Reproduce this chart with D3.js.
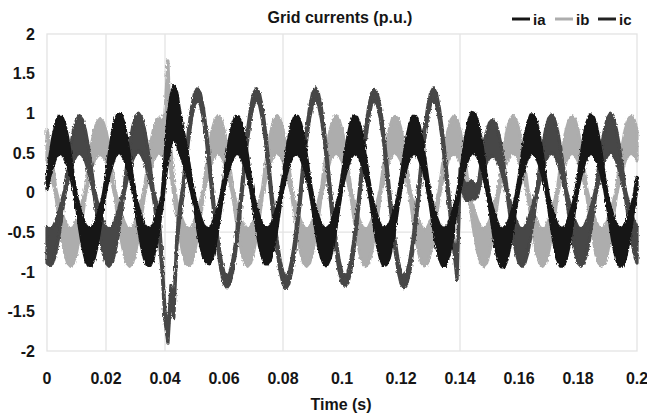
<!DOCTYPE html>
<html>
<head>
<meta charset="utf-8">
<script src="https://cdn.jsdelivr.net/npm/d3@7"></script>
<style>
  body { margin: 0; background: #fff; }
  svg text { font-family: "Liberation Sans", Arial, sans-serif; font-weight: bold; fill: #151515; }
</style>
</head>
<body>
<div id="chart"></div>
<script>
// Samples every 1 ms from 0 to 0.2 s. Each phase is kept as the upper and
// lower edge of its ripple band.
const SAMPLE_STEP = 0.001;

const iaHigh = [
  .19, .46, .70, .87, .96, .96, .87, .70, .46, .19, -.04, -.19, -.31, -.41, -.45, -.45, -.41, -.31, -.19, -.04,
  .19, .47, .72, .90, .99, .99, .89, .70, .46, .19, -.04, -.19, -.31, -.41, -.45, -.45, -.41, -.31, -.19, -.04,
  .45, .95, 1.22, 1.35, 1.26, 1.02, .82, .62, .40, .15, -.04, -.19, -.31, -.41, -.45, -.45, -.41, -.31, -.19, -.04,
  .19, .46, .70, .87, .96, .95, .86, .70, .46, .19, -.04, -.19, -.31, -.41, -.44, -.45, -.41, -.31, -.19, -.04,
  .19, .46, .70, .87, .96, .96, .87, .70, .46, .19, -.04, -.19, -.31, -.41, -.45, -.45, -.41, -.31, -.19, -.04,
  .20, .47, .71, .88, .96, .95, .86, .69, .45, .19, -.04, -.19, -.31, -.41, -.45, -.44, -.41, -.31, -.19, -.04,
  .19, .46, .70, .87, .96, .96, .87, .70, .46, .19, -.04, -.19, -.31, -.41, -.45, -.45, -.41, -.31, -.19, -.04,
  .19, .47, .72, .91, 1.01, 1.0, .89, .71, .46, .19, -.04, -.19, -.31, -.42, -.46, -.46, -.41, -.31, -.19, -.04,
  .19, .46, .71, .88, .98, .97, .88, .70, .46, .19, -.04, -.19, -.31, -.41, -.45, -.45, -.41, -.31, -.19, -.04,
  .19, .46, .71, .88, .98, .97, .88, .70, .46, .19, -.04, -.19, -.31, -.41, -.45, -.45, -.41, -.31, -.19, -.04,
  .19
];
const iaLow = [
  .04, .21, .34, .44, .49, .49, .44, .34, .21, .04, -.18, -.44, -.67, -.83, -.92, -.92, -.83, -.67, -.44, -.18,
  .04, .21, .34, .45, .50, .50, .44, .34, .21, .04, -.18, -.44, -.67, -.83, -.92, -.92, -.83, -.67, -.44, -.18,
  .15, .42, .62, .72, .62, .50, .40, .28, .16, .00, -.18, -.44, -.66, -.81, -.89, -.90, -.83, -.67, -.44, -.18,
  .04, .21, .34, .44, .49, .49, .44, .34, .21, .04, -.18, -.44, -.67, -.82, -.90, -.90, -.82, -.67, -.44, -.18,
  .04, .21, .34, .44, .49, .49, .44, .34, .21, .04, -.18, -.44, -.67, -.82, -.91, -.91, -.83, -.67, -.44, -.18,
  .04, .21, .34, .44, .49, .49, .44, .34, .21, .04, -.18, -.44, -.67, -.83, -.92, -.91, -.83, -.67, -.44, -.18,
  .04, .21, .34, .44, .49, .49, .44, .34, .21, .04, -.18, -.44, -.67, -.83, -.92, -.92, -.83, -.67, -.44, -.18,
  .04, .21, .35, .45, .50, .50, .45, .35, .21, .04, -.18, -.44, -.68, -.85, -.94, -.94, -.84, -.67, -.44, -.18,
  .04, .21, .34, .44, .49, .49, .44, .34, .21, .04, -.18, -.44, -.67, -.84, -.93, -.93, -.84, -.67, -.44, -.18,
  .04, .21, .34, .44, .49, .49, .44, .34, .21, .04, -.18, -.44, -.67, -.84, -.93, -.93, -.84, -.67, -.44, -.18,
  .04
];

const ibHigh = [
  .79, .59, .33, .04, -.11, -.25, -.36, -.44, -.46, -.44, -.36, -.25, -.11, .04, .33, .59, .78, .89, .93, .89,
  .78, .59, .33, .04, -.11, -.25, -.36, -.44, -.46, -.44, -.36, -.25, -.11, .04, .33, .59, .78, .90, .94, .90,
  1.0, 1.66, .55, .12, -.11, -.25, -.36, -.44, -.46, -.44, -.36, -.25, -.11, .04, .33, .59, .79, .92, .97, .92,
  .79, .59, .33, .04, -.11, -.25, -.36, -.44, -.46, -.44, -.36, -.25, -.11, .04, .33, .59, .79, .92, .97, .92,
  .79, .59, .33, .04, -.11, -.25, -.36, -.44, -.46, -.44, -.36, -.25, -.11, .04, .33, .59, .79, .92, .97, .92,
  .79, .59, .33, .04, -.11, -.25, -.36, -.44, -.46, -.44, -.36, -.25, -.11, .04, .33, .59, .79, .92, .96, .93,
  .80, .60, .33, .04, -.11, -.25, -.36, -.44, -.46, -.44, -.36, -.25, -.11, .04, .33, .59, .79, .92, .97, .92,
  .79, .59, .33, .04, -.11, -.25, -.36, -.44, -.46, -.44, -.36, -.25, -.11, .04, .33, .59, .79, .92, .97, .92,
  .79, .59, .33, .04, -.11, -.25, -.36, -.44, -.46, -.44, -.36, -.25, -.11, .04, .33, .59, .79, .92, .97, .92,
  .79, .59, .33, .04, -.11, -.25, -.36, -.44, -.46, -.44, -.36, -.25, -.11, .04, .33, .59, .79, .92, .97, .92,
  .79
];
const ibLow = [
  .40, .28, .13, -.04, -.32, -.56, -.76, -.89, -.93, -.89, -.76, -.56, -.32, -.04, .13, .28, .40, .46, .48, .46,
  .40, .28, .13, -.04, -.32, -.56, -.76, -.89, -.93, -.89, -.76, -.56, -.32, -.04, .13, .28, .40, .47, .49, .47,
  .55, 1.45, .25, -.04, -.32, -.56, -.76, -.89, -.92, -.89, -.76, -.56, -.32, -.04, .13, .28, .40, .47, .50, .47,
  .40, .28, .13, -.04, -.32, -.56, -.76, -.89, -.93, -.89, -.76, -.56, -.32, -.04, .13, .28, .40, .47, .50, .47,
  .40, .28, .13, -.04, -.32, -.56, -.76, -.89, -.93, -.89, -.76, -.56, -.32, -.04, .13, .28, .40, .47, .50, .47,
  .40, .28, .13, -.04, -.32, -.56, -.76, -.89, -.93, -.89, -.76, -.56, -.32, -.04, .13, .28, .40, .47, .50, .47,
  .40, .28, .13, -.04, -.32, -.56, -.76, -.89, -.93, -.89, -.76, -.56, -.32, -.04, .13, .28, .40, .47, .50, .47,
  .40, .28, .13, -.04, -.32, -.56, -.76, -.89, -.93, -.89, -.76, -.56, -.32, -.04, .13, .28, .40, .47, .50, .47,
  .40, .28, .13, -.04, -.32, -.56, -.76, -.89, -.93, -.89, -.76, -.56, -.32, -.04, .13, .28, .40, .47, .50, .47,
  .40, .28, .13, -.04, -.32, -.56, -.76, -.89, -.93, -.89, -.76, -.56, -.32, -.04, .13, .28, .40, .47, .50, .47,
  .40
];

const icHigh = [
  -.44, -.46, -.44, -.36, -.25, -.11, .04, .33, .59, .79, .92, .97, .92, .79, .59, .33, .04, -.11, -.25, -.36,
  -.44, -.46, -.44, -.36, -.25, -.11, .04, .34, .61, .82, .96, 1.0, .95, .81, .60, .33, .04, -.11, -.30, -.85,
  -1.48, -1.80, -1.17, -1.45, -.55, -.18, .07, .45, .80, 1.07, 1.25, 1.31, 1.25, 1.07, .80, .45, .07, -.28, -.60, -.85,
  -1.01, -1.07, -1.01, -.85, -.60, -.28, .07, .45, .80, 1.07, 1.25, 1.31, 1.25, 1.07, .80, .45, .07, -.28, -.60, -.85,
  -1.01, -1.08, -1.01, -.85, -.60, -.28, .07, .45, .80, 1.07, 1.25, 1.32, 1.25, 1.07, .80, .45, .07, -.28, -.60, -.85,
  -1.01, -1.06, -1.01, -.85, -.60, -.28, .07, .45, .80, 1.07, 1.25, 1.30, 1.25, 1.07, .80, .45, .07, -.28, -.60, -.85,
  -1.01, -1.07, -1.01, -.85, -.60, -.28, .07, .45, .80, 1.07, 1.25, 1.32, 1.25, 1.07, .80, .45, .07, -.28, -.62, -.95,
  .30, .18, .10, .12, .15, .10, .06, .33, .59, .76, .88, .92, .88, .76, .59, .33, .04, -.11, -.25, -.36,
  -.44, -.46, -.44, -.36, -.25, -.11, .04, .33, .59, .79, .93, .98, .93, .79, .59, .33, .04, -.11, -.25, -.36,
  -.44, -.46, -.44, -.36, -.25, -.11, .04, .33, .59, .80, .94, 1.0, .94, .80, .59, .33, .04, -.11, -.25, -.36,
  -.44
];
const icLow = [
  -.89, -.92, -.89, -.76, -.56, -.32, -.04, .13, .28, .40, .47, .50, .47, .40, .28, .13, -.04, -.32, -.56, -.76,
  -.89, -.93, -.89, -.76, -.56, -.32, -.04, .13, .29, .41, .49, .52, .48, .40, .28, .13, -.04, -.32, -.55, -1.00,
  -1.62, -1.90, -1.28, -1.58, -.68, -.32, -.07, .31, .66, .93, 1.11, 1.17, 1.11, .93, .66, .31, -.07, -.42, -.74, -.99,
  -1.15, -1.20, -1.15, -.99, -.74, -.42, -.07, .31, .66, .93, 1.11, 1.17, 1.11, .93, .66, .31, -.07, -.42, -.74, -.99,
  -1.15, -1.21, -1.15, -.99, -.74, -.42, -.07, .31, .66, .93, 1.11, 1.18, 1.11, .93, .66, .31, -.07, -.42, -.74, -.99,
  -1.14, -1.18, -1.14, -.99, -.74, -.42, -.07, .31, .66, .93, 1.11, 1.16, 1.11, .93, .66, .31, -.07, -.42, -.74, -.99,
  -1.15, -1.20, -1.15, -.99, -.74, -.42, -.07, .31, .66, .93, 1.11, 1.18, 1.11, .93, .66, .31, -.07, -.42, -.76, -1.10,
  .12, .00, -.10, -.10, -.08, -.08, -.04, .13, .28, .38, .44, .46, .44, .38, .28, .13, -.04, -.32, -.56, -.76,
  -.89, -.93, -.89, -.76, -.56, -.32, -.04, .13, .28, .40, .47, .50, .47, .40, .28, .13, -.04, -.32, -.56, -.76,
  -.89, -.93, -.89, -.76, -.56, -.32, -.04, .13, .28, .40, .47, .50, .47, .40, .28, .13, -.04, -.32, -.56, -.76,
  -.89
];

const xTicks = [0, 0.02, 0.04, 0.06, 0.08, 0.1, 0.12, 0.14, 0.16, 0.18, 0.2];
const yTicks = [2, 1.5, 1, 0.5, 0, -0.5, -1, -1.5, -2];
const gridTimes = [0.02, 0.04, 0.08, 0.14];
const gridValues = [-0.5];

const legendNames = ["ia", "ib", "ic"];
const colors = {ia: "#161616", ib: "#adadad", ic: "#464646"};

// drawing order: light phase at the back, black phase on top
const series = [
  {name: "ib", high: ibHigh, low: ibLow},
  {name: "ic", high: icHigh, low: icLow},
  {name: "ia", high: iaHigh, low: iaLow},
];

const width = 647;
const height = 414;
const margin = {top: 34, right: 10, bottom: 63, left: 47};

const svg = d3.select("#chart").append("svg").attr("width", width).attr("height", height);

// slight roughening so the bands get the switching-ripple fringe
const rough = svg.append("defs").append("filter")
  .attr("id", "rough")
  .attr("x", "-5%").attr("y", "-5%").attr("width", "110%").attr("height", "110%");
rough.append("feTurbulence")
  .attr("type", "fractalNoise")
  .attr("baseFrequency", "0.9 0.35")
  .attr("numOctaves", 1)
  .attr("seed", 3)
  .attr("result", "noise");
rough.append("feDisplacementMap")
  .attr("in", "SourceGraphic")
  .attr("in2", "noise")
  .attr("scale", 3.5)
  .attr("xChannelSelector", "R")
  .attr("yChannelSelector", "G");

const x = d3.scaleLinear([0, 0.2], [margin.left, width - margin.right]);
const y = d3.scaleLinear([-2, 2], [height - margin.bottom, margin.top]);

// frame + the few grid lines that show
const grid = svg.append("g").attr("stroke", "#e3e3e3").attr("stroke-width", 1.3).attr("fill", "none");
grid.append("rect")
  .attr("x", x(0)).attr("y", y(2))
  .attr("width", x(0.2) - x(0)).attr("height", y(-2) - y(2));
grid.selectAll("line.v").data(gridTimes).join("line")
  .attr("class", "v")
  .attr("x1", (d) => x(d)).attr("x2", (d) => x(d))
  .attr("y1", y(2)).attr("y2", y(-2));
grid.selectAll("line.h").data(gridValues).join("line")
  .attr("class", "h")
  .attr("x1", x(0)).attr("x2", x(0.2))
  .attr("y1", (d) => y(d)).attr("y2", (d) => y(d));

// phase current bands
const band = d3.area()
  .x((d, i) => x(i * SAMPLE_STEP))
  .y0((d) => y(d[0]))
  .y1((d) => y(d[1]));

svg.append("g")
  .attr("filter", "url(#rough)")
  .selectAll("path")
  .data(series)
  .join("path")
  .attr("d", (s) => band(d3.zip(s.low, s.high)))
  .attr("fill", (s) => colors[s.name])
  .attr("stroke", (s) => colors[s.name])
  .attr("stroke-width", 3.2)
  .attr("stroke-linejoin", "round");

// tick labels
svg.append("g")
  .selectAll("text")
  .data(yTicks)
  .join("text")
  .attr("x", 35)
  .attr("y", (d) => y(d))
  .attr("dy", "0.36em")
  .attr("text-anchor", "end")
  .attr("font-size", 16)
  .text((d) => d);

svg.append("g")
  .selectAll("text")
  .data(xTicks)
  .join("text")
  .attr("x", (d) => x(d))
  .attr("y", 384)
  .attr("text-anchor", "middle")
  .attr("font-size", 16)
  .text((d) => d);

svg.append("text")
  .attr("x", 341)
  .attr("y", 410)
  .attr("text-anchor", "middle")
  .attr("font-size", 16)
  .text("Time (s)");

svg.append("text")
  .attr("x", 340)
  .attr("y", 23)
  .attr("text-anchor", "middle")
  .attr("font-size", 16)
  .text("Grid currents (p.u.)");

// legend
const legend = svg.append("g")
  .selectAll("g")
  .data(legendNames)
  .join("g")
  .attr("transform", (d, i) => `translate(${512 + i * 43}, 19)`);
legend.append("line")
  .attr("x1", 0).attr("x2", 18)
  .attr("stroke", (d) => d === "ic" ? "#222" : colors[d])
  .attr("stroke-width", 3);
legend.append("text")
  .attr("x", 21)
  .attr("y", 5.5)
  .attr("font-size", 15)
  .text((d) => d);
</script>
</body>
</html>
